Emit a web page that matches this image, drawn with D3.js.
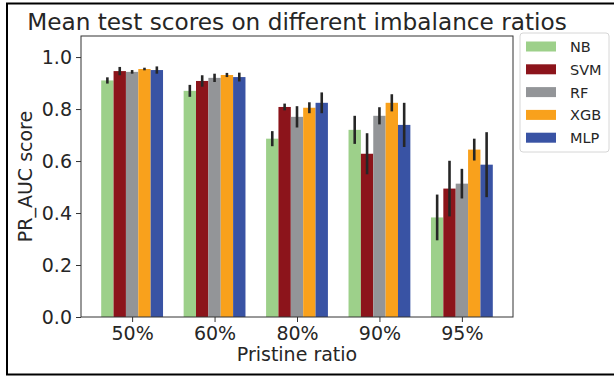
<!DOCTYPE html>
<html>
<head>
<meta charset="utf-8">
<script src="https://cdn.jsdelivr.net/npm/d3@7"></script>
<style>
  html, body { margin: 0; padding: 0; background: #fff; }
  svg { display: block; }
  text { font-family: "DejaVu Sans", sans-serif; fill: #262626; }
</style>
</head>
<body>
<svg id="chart" width="614" height="378"></svg>
<script>
// ---- data ----
const categories = ["50%", "60%", "80%", "90%", "95%"];
const models = ["NB", "SVM", "RF", "XGB", "MLP"];
const colors = ["#9dd08a", "#8c141b", "#939598", "#f9a11c", "#3953a4"];
const means = {
  NB:  [0.910, 0.870, 0.686, 0.720, 0.383],
  SVM: [0.946, 0.908, 0.808, 0.628, 0.494],
  RF:  [0.943, 0.920, 0.770, 0.774, 0.513],
  XGB: [0.954, 0.931, 0.805, 0.824, 0.644],
  MLP: [0.950, 0.923, 0.824, 0.739, 0.586]
};
const errs = {
  NB:  [0.012, 0.023, 0.029, 0.054, 0.088],
  SVM: [0.016, 0.022, 0.013, 0.079, 0.107],
  RF:  [0.007, 0.016, 0.041, 0.033, 0.057],
  XGB: [0.005, 0.008, 0.021, 0.033, 0.042],
  MLP: [0.014, 0.017, 0.040, 0.085, 0.125]
};
const yTicks = [0.0, 0.2, 0.4, 0.6, 0.8, 1.0];

// ---- layout ----
const svg = d3.select("#chart");
const L = 81, R = 513, T = 36, B = 317;
const barW = 0.15;

svg.append("rect").attr("x", 7).attr("y", 3.5).attr("width", 620).attr("height", 371)
  .attr("fill", "none").attr("stroke", "#000").attr("stroke-width", 2);

const x = d3.scaleLinear().domain([-0.62, categories.length - 1 + 0.62]).range([L, R]);
const y = d3.scaleLinear().domain([0, 1.081]).range([B, T]);

// bars
models.forEach((m, i) => {
  const off = (i - 2) * barW;
  const g = svg.append("g");
  g.selectAll("rect").data(categories).join("rect")
    .attr("x", (d, j) => x(j + off - barW / 2))
    .attr("width", x(barW) - x(0))
    .attr("y", (d, j) => y(means[m][j]))
    .attr("height", (d, j) => y(0) - y(means[m][j]))
    .attr("fill", colors[i]);
});
// error bars
models.forEach((m, i) => {
  const off = (i - 2) * barW;
  svg.append("g").selectAll("line").data(categories).join("line")
    .attr("x1", (d, j) => x(j + off)).attr("x2", (d, j) => x(j + off))
    .attr("y1", (d, j) => y(means[m][j] - errs[m][j]))
    .attr("y2", (d, j) => y(means[m][j] + errs[m][j]))
    .attr("stroke", "#262626").attr("stroke-width", 2.6);
});

// spines
svg.append("rect").attr("x", L).attr("y", T).attr("width", R - L).attr("height", B - T)
  .attr("fill", "none").attr("stroke", "#333").attr("stroke-width", 1);

// y axis
const yAxis = d3.axisLeft(y).tickValues(yTicks).tickFormat(d3.format(".1f")).tickSize(5).tickPadding(4);
const gy = svg.append("g").attr("transform", `translate(${L},0)`).call(yAxis);
gy.select(".domain").remove();
gy.selectAll("line").attr("stroke", "#333");
gy.selectAll("text").style("font-size", "19px").attr("fill", "#262626");

// x axis
const xAxis = d3.axisBottom(x).tickValues(d3.range(categories.length)).tickFormat(i => categories[i]).tickSize(5).tickPadding(5);
const gx = svg.append("g").attr("transform", `translate(0,${B})`).call(xAxis);
gx.select(".domain").remove();
gx.selectAll("line").attr("stroke", "#333");
gx.selectAll("text").style("font-size", "19px").attr("fill", "#262626");

// labels
svg.append("text").attr("x", (L + R) / 2).attr("y", 361).attr("text-anchor", "middle")
  .style("font-size", "19px").text("Pristine ratio");
svg.append("text").attr("transform", `translate(32,${(T + B) / 2}) rotate(-90)`)
  .attr("text-anchor", "middle").style("font-size", "19px").text("PR_AUC score");
svg.append("text").attr("x", (L + R) / 2).attr("y", 30).attr("text-anchor", "middle")
  .style("font-size", "23.2px").text("Mean test scores on different imbalance ratios");

// legend
const lg = svg.append("g");
lg.append("rect").attr("x", 520).attr("y", 33).attr("width", 89).attr("height", 119)
  .attr("rx", 3).attr("fill", "#fff").attr("stroke", "#d6d6d6").attr("stroke-width", 1);
models.forEach((m, i) => {
  const cy = 46.5 + i * 22.8;
  lg.append("rect").attr("x", 526).attr("y", cy - 5).attr("width", 30).attr("height", 10).attr("fill", colors[i]);
  lg.append("text").attr("x", 570).attr("y", cy + 5.5).style("font-size", "14.5px").text(m);
});
</script>
</body>
</html>
